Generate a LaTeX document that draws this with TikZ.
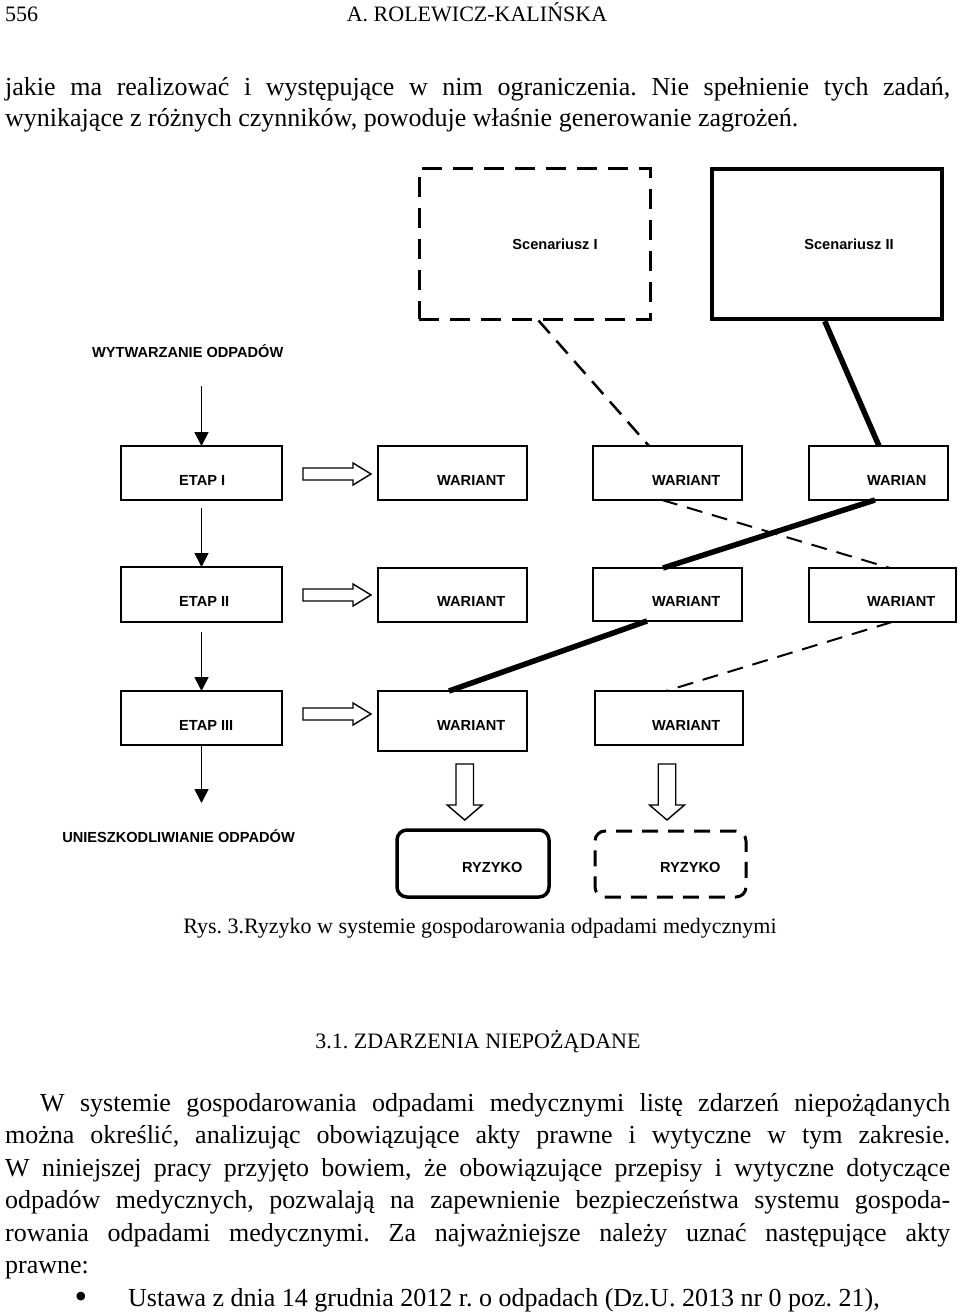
\documentclass[tikz,border=0pt]{standalone}
\usepackage{fontspec}
\setmainfont{Liberation Serif}
\newfontfamily\arialfam{Liberation Sans}
\usetikzlibrary{arrows.meta,calc}
\begin{document}
\frenchspacing
\begin{tikzpicture}[x=1pt,y=-1pt,
  box/.style={draw, line width=1.6pt, inner sep=0pt, outer sep=0pt},
  lab/.style={font=\arialfam\bfseries\fontsize{14.6}{17}\selectfont, inner sep=0pt, anchor=base west},
  body/.style={font=\frenchspacing\fontsize{26}{32.5}\selectfont, inner sep=0pt, anchor=base west},
  small/.style={font=\frenchspacing\fontsize{22}{26}\selectfont, inner sep=0pt, anchor=base},
  varrow/.style={line width=1.8pt, -{Triangle[length=14pt,width=14pt]}},
  hollow/.style={draw, line width=1.4pt, fill=white, line join=miter},
  thickline/.style={line width=5.5pt},
  thindash/.style={line width=2pt, dash pattern=on 16pt off 10pt},
]
\fill[white] (0,0) rectangle (960,1316);
\useasboundingbox (0,0) rectangle (960,1316);

% header and upper text
\node[small, anchor=base west] (pg) at (5,22) {556};
\node[small] (hd) at (477,22) {A. ROLEWICZ-KALIŃSKA};
\node[body] (l1) at (5,96) {\makebox[945pt][s]{jakie ma realizować i występujące w nim ograniczenia. Nie spełnienie tych zadań,}};
\node[body] (l2) at (5,127) {wynikające z różnych czynników, powoduje właśnie generowanie zagrożeń.};

% scenario boxes
\node[draw, line width=3pt, dash pattern=on 20pt off 11pt, inner sep=0pt, minimum width=231pt, minimum height=150pt] (scen1) at (534.5,244) {};
\node[draw, line width=4.5pt, inner sep=0pt, minimum width=230pt, minimum height=150pt] (scen2) at (827,244) {};
\node[lab, anchor=base] (s1l) at (555,249) {Scenariusz I};
\node[lab, anchor=base] (s2l) at (849,249) {Scenariusz II};

\node[lab] (wyt) at (92,357) {WYTWARZANIE ODPADÓW};

% row 1
\node[box, minimum width=161pt, minimum height=54pt] (etap1) at (201.5,473) {};
\node[box, minimum width=149pt, minimum height=54pt] (w11) at (452.5,473) {};
\node[box, minimum width=149pt, minimum height=54pt] (w12) at (667.5,473) {};
\node[box, minimum width=139pt, minimum height=54pt] (w13) at (878.5,473) {};
% row 2
\node[box, minimum width=161pt, minimum height=55pt] (etap2) at (201.5,594.5) {};
\node[box, minimum width=149pt, minimum height=54pt] (w21) at (452.5,595) {};
\node[box, minimum width=149pt, minimum height=53pt] (w22) at (667.5,594.5) {};
\node[box, minimum width=147pt, minimum height=54pt] (w23) at (882.5,595) {};
% row 3
\node[box, minimum width=161pt, minimum height=54pt] (etap3) at (201.5,718) {};
\node[box, minimum width=149pt, minimum height=60pt] (w31) at (452.5,721) {};
\node[box, minimum width=148pt, minimum height=54pt] (w32) at (669,718) {};

% labels
\node[lab] (e1l) at (179,485) {ETAP I};
\node[lab] (e2l) at (179,606) {ETAP II};
\node[lab] (e3l) at (179,730) {ETAP III};
\node[lab] (w11l) at (437,485) {WARIANT};
\node[lab] (w12l) at (652,485) {WARIANT};
\node[lab] (w13l) at (867,485) {WARIAN};
\node[lab] (w21l) at (437,606) {WARIANT};
\node[lab] (w22l) at (652,606) {WARIANT};
\node[lab] (w23l) at (867,606) {WARIANT};
\node[lab] (w31l) at (437,730) {WARIANT};
\node[lab] (w32l) at (652,730) {WARIANT};

\node[lab, anchor=base east] (unsz) at (295,842) {UNIESZKODLIWIANIE ODPADÓW};

% risk boxes
\node[draw, line width=3.5pt, rounded corners=10pt, inner sep=0pt, minimum width=152pt, minimum height=67pt] (ryz1) at (473,863.5) {};
\node[draw, line width=3pt, dash pattern=on 16pt off 10pt, rounded corners=10pt, inner sep=0pt, minimum width=151pt, minimum height=66pt] (ryz2) at (670.5,864) {};
\node[lab] (r1l) at (462,872) {RYZYKO};
\node[lab] (r2l) at (660,872) {RYZYKO};

% black vertical arrows
\draw[varrow] ($(etap1.north |- wyt.base)+(0,29)$) -- (etap1.north);
\draw[varrow] ($(etap1.south)+(0,8)$) -- (etap2.north);
\draw[varrow] ($(etap2.south)+(0,10)$) -- (etap3.north);
\coordinate (uend) at (201.5,803);
\draw[varrow] (etap3.south) -- (uend);

% hollow right arrows
\foreach \yc in {474,595,714}{
  \draw[hollow] (303,\yc-6) -- (353,\yc-6) -- (353,\yc-11) -- (371,\yc) -- (353,\yc+11) -- (353,\yc+6) -- (303,\yc+6) -- cycle;
}
% hollow down arrows
\foreach \xc in {464.7,667}{
  \draw[hollow] (\xc-8.75,764) -- (\xc+8.75,764) -- (\xc+8.75,805) -- (\xc+17.5,805) -- (\xc,820) -- (\xc-17.5,805) -- (\xc-8.75,805) -- cycle;
}

% scenario paths
\draw[line width=2.5pt, dash pattern=on 17pt off 10pt] ($(scen1.south west)+(121,0)$) -- ($(w12.north west)+(56,0)$);
\draw[thickline] ($(scen2.south west)+(115,0)$) -- ($(w13.north west)+(70,0)$);
\draw[thindash] ($(w12.south west)+(69,0)$) -- ($(w23.north west)+(81,0)$);
\draw[thickline] ($(w13.south west)+(66,0)$) -- ($(w22.north west)+(70,0)$);
\draw[thickline] ($(w22.south west)+(54,0)$) -- ($(w31.north west)+(71,0)$);
\draw[thindash] ($(w23.south west)+(83,0)$) -- ($(w32.north west)+(71,0)$);

% caption and section text
\node[small] (cap) at (480,933) {Rys. 3.Ryzyko w systemie gospodarowania odpadami medycznymi};
\node[small] (sec) at (478,1048) {3.1. ZDARZENIA NIEPOŻĄDANE};

\node[body] (b1) at (40,1111) {\makebox[910pt][s]{W systemie gospodarowania odpadami medycznymi listę zdarzeń niepożądanych}};
\node[body] (b2) at (5,1143.5) {\makebox[945pt][s]{można określić, analizując obowiązujące akty prawne i wytyczne w tym zakresie.}};
\node[body] (b3) at (5,1176) {\makebox[945pt][s]{W niniejszej pracy przyjęto bowiem, że obowiązujące przepisy i wytyczne dotyczące}};
\node[body] (b4) at (5,1208.5) {\makebox[945pt][s]{odpadów medycznych, pozwalają na zapewnienie bezpieczeństwa systemu gospoda-}};
\node[body] (b5) at (5,1241) {\makebox[945pt][s]{rowania odpadami medycznymi. Za najważniejsze należy uznać następujące akty}};
\node[body] (b6) at (5,1273.5) {prawne:};
\node[body, anchor=base, font=\fontsize{36}{40}\selectfont] (bul) at (81,1308) {•};
\node[body] (b7) at (128,1306) {Ustawa z dnia 14 grudnia 2012 r. o odpadach (Dz.U. 2013 nr 0 poz. 21),};
\end{tikzpicture}
\end{document}
